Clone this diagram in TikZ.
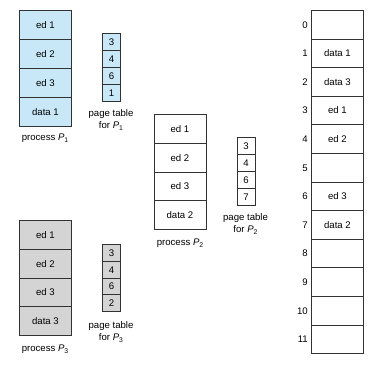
\documentclass[tikz,border=0pt]{standalone}
\usepackage{fontspec}
\setmainfont{Liberation Sans}
\definecolor{pblue}{RGB}{200,232,248}
\definecolor{pgray}{RGB}{212,212,212}
\definecolor{edge}{RGB}{50,50,50}
\newcommand{\procP}[1]{\textit{P}\raisebox{-0.45ex}{\fontsize{6.8}{7}\selectfont #1}}
\begin{document}
\begin{tikzpicture}[x=1pt,y=-1pt,
  cell/.style={draw=edge,line width=0.9pt,minimum width=52pt,minimum height=29pt,inner sep=0pt,anchor=north west,font=\fontsize{9.6}{11}\selectfont},
  ptcell/.style={draw=edge,line width=0.9pt,minimum width=18pt,minimum height=17pt,inner sep=0pt,anchor=north west,font=\fontsize{9.6}{11}\selectfont},
  memcell/.style={draw=edge,line width=0.9pt,minimum width=52pt,minimum height=28.6pt,inner sep=0pt,anchor=north west,font=\fontsize{9.6}{11}\selectfont},
  lbl/.style={font=\fontsize{9.6}{12.5}\selectfont,inner sep=0pt,align=center},
  num/.style={font=\fontsize{9.6}{11}\selectfont,inner sep=0pt,anchor=east}]
\useasboundingbox (0,0) rectangle (383,371);
% process P1
\foreach \t [count=\i from 0] in {ed 1,ed 2,ed 3,data 1}
  \node[cell,fill=pblue] (pa\i) at (19,{10+29*\i}) {\t};
\node[lbl] (lpa) at (45,138) {process \procP{1}};
\foreach \t [count=\i from 0] in {3,4,6,1}
  \node[ptcell,fill=pblue] (ta\i) at (102,{33+17*\i}) {\t};
\node[lbl] (lta) at (111,120) {page table\\for \procP{1}};
% process P2
\foreach \t [count=\i from 0] in {ed 1,ed 2,ed 3,data 2}
  \node[cell,fill=white] (pb\i) at (153.5,{114+28.8*\i}) {\t};
\node[lbl] (lpb) at (180,243) {process \procP{2}};
\foreach \t [count=\i from 0] in {3,4,6,7}
  \node[ptcell,fill=white] (tb\i) at (236.5,{137+17*\i}) {\t};
\node[lbl] (ltb) at (245.5,224) {page table\\for \procP{2}};
% process P3
\foreach \t [count=\i from 0] in {ed 1,ed 2,ed 3,data 3}
  \node[cell,fill=pgray] (pc\i) at (19,{220+28.8*\i}) {\t};
\node[lbl] (lpc) at (45,349) {process \procP{3}};
\foreach \t [count=\i from 0] in {3,4,6,2}
  \node[ptcell,fill=pgray] (tc\i) at (102,{244+16.8*\i}) {\t};
\node[lbl] (ltc) at (111,332) {page table\\for \procP{3}};
% physical memory
\foreach \t [count=\i from 0] in {{},data 1,data 3,ed 1,ed 2,{},ed 3,data 2,{},{},{},{}}
  \node[memcell,fill=white] (m\i) at (311,{10+28.6*\i}) {\t};
\foreach \i in {0,...,11}
  \node[num] (n\i) at ([xshift=-3pt]m\i.west) {\i};
\end{tikzpicture}
\end{document}
